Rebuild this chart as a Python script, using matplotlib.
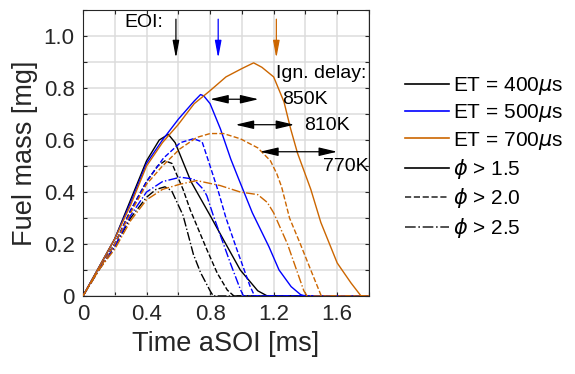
import matplotlib.pyplot as plt
import numpy as np
from matplotlib.lines import Line2D
from matplotlib.ticker import MultipleLocator, FuncFormatter

# colours for the three injection durations
ET_COLORS = ['black', '#0000FF', '#CC6600']

# ET = 400 us
t400_15 = [0, 0.1, 0.2, 0.3, 0.4, 0.48, 0.537, 0.58, 0.68, 0.8, 0.89, 0.99, 1.1, 1.16, 1.8]
m400_15 = [0, 0.11, 0.22, 0.37, 0.52, 0.60, 0.622, 0.59, 0.44, 0.31, 0.21, 0.10, 0.02, 0, 0]
t400_20 = [0, 0.1, 0.2, 0.3, 0.4, 0.47, 0.516, 0.56, 0.63, 0.676, 0.78, 0.845, 0.908, 0.95, 1.8]
m400_20 = [0, 0.105, 0.2, 0.33, 0.44, 0.50, 0.52, 0.51, 0.41, 0.33, 0.178, 0.088, 0.023, 0, 0]
t400_25 = [0, 0.1, 0.2, 0.3, 0.4, 0.46, 0.516, 0.558, 0.63, 0.695, 0.74, 0.80, 0.82, 1.8]
m400_25 = [0, 0.1, 0.19, 0.30, 0.38, 0.41, 0.42, 0.405, 0.31, 0.16, 0.09, 0.02, 0, 0]

# ET = 500 us
t500_15 = [0, 0.1, 0.2, 0.3, 0.4, 0.5, 0.6, 0.7, 0.74, 0.76, 0.8, 0.865, 0.93, 0.98, 1.066, 1.17, 1.234, 1.31, 1.37, 1.4, 1.8]
m500_15 = [0, 0.11, 0.22, 0.36, 0.51, 0.60, 0.68, 0.75, 0.775, 0.77, 0.74, 0.643, 0.527, 0.45, 0.32, 0.19, 0.10, 0.036, 0.005, 0, 0]
t500_20 = [0, 0.1, 0.2, 0.3, 0.4, 0.506, 0.613, 0.695, 0.75, 0.80, 0.853, 0.9, 0.968, 1.05, 1.08, 1.8]
m500_20 = [0, 0.105, 0.2, 0.33, 0.44, 0.53, 0.59, 0.605, 0.593, 0.50, 0.40, 0.30, 0.18, 0.04, 0, 0]
t500_25 = [0, 0.1, 0.2, 0.3, 0.4, 0.5, 0.613, 0.695, 0.758, 0.78, 0.82, 0.926, 0.99, 1.01, 1.8]
m500_25 = [0, 0.1, 0.19, 0.31, 0.40, 0.44, 0.457, 0.45, 0.41, 0.385, 0.31, 0.129, 0.026, 0, 0]

# ET = 700 us
t700_15 = [0, 0.1, 0.2, 0.3, 0.4, 0.5, 0.6, 0.7, 0.8, 0.9, 1.0, 1.074, 1.126, 1.2, 1.265, 1.307, 1.35, 1.434, 1.497, 1.6, 1.687, 1.75, 1.8]
m700_15 = [0, 0.11, 0.22, 0.35, 0.50, 0.59, 0.66, 0.74, 0.79, 0.843, 0.875, 0.897, 0.88, 0.843, 0.747, 0.643, 0.55, 0.41, 0.283, 0.127, 0.05, 0, 0]
t700_20 = [0, 0.1, 0.2, 0.3, 0.4, 0.5, 0.61, 0.716, 0.8, 0.884, 0.99, 1.1, 1.18, 1.22, 1.25, 1.3, 1.368, 1.45, 1.5, 1.8]
m700_20 = [0, 0.1, 0.2, 0.32, 0.43, 0.50, 0.566, 0.61, 0.625, 0.625, 0.605, 0.57, 0.52, 0.47, 0.42, 0.30, 0.20, 0.075, 0, 0]
t700_25 = [0, 0.1, 0.2, 0.3, 0.4, 0.5, 0.61, 0.716, 0.863, 0.99, 1.1, 1.16, 1.2, 1.287, 1.39, 1.41, 1.8]
m700_25 = [0, 0.1, 0.18, 0.29, 0.37, 0.41, 0.43, 0.444, 0.425, 0.40, 0.39, 0.36, 0.32, 0.2, 0.02, 0, 0]

# end of injection arrows (x position) and ignition delay arrows
eoi_times = [0.585, 0.851, 1.217]
delay_labels = ['850K', '810K', '770K']
delay_start = [0.80, 0.96, 1.114]
delay_end = [1.105, 1.33, 1.60]
delay_level = [0.757, 0.659, 0.555]
delay_text_xy = [(1.40, 0.757), (1.535, 0.657), (1.655, 0.50)]

legend_labels = [r'ET = 400$\mu$s', r'ET = 500$\mu$s', r'ET = 700$\mu$s',
                 r'$\phi$ > 1.5', r'$\phi$ > 2.0', r'$\phi$ > 2.5']


def FuelPlot():
	plt.rcParams['font.family'] = ['Liberation Sans', 'DejaVu Sans']
	plt.rcParams['mathtext.fontset'] = 'dejavusans'
	fig = plt.figure(figsize=(5.75, 3.74), dpi=100)
	ax = fig.add_axes([0.1443, 0.2086, 0.4974, 0.7644])

	series = [
		(t400_15, m400_15, 0, '-'), (t400_20, m400_20, 0, '--'), (t400_25, m400_25, 0, '-.'),
		(t500_15, m500_15, 1, '-'), (t500_20, m500_20, 1, '--'), (t500_25, m500_25, 1, '-.'),
		(t700_15, m700_15, 2, '-'), (t700_20, m700_20, 2, '--'), (t700_25, m700_25, 2, '-.'),
	]
	for t, m, c, ls in series:
		ax.plot(t, m, color=ET_COLORS[c], linestyle=ls, lw=1.0, zorder=3)

	ax.set_xlim(0, 1.8)
	ax.set_ylim(0, 1.1)
	ax.xaxis.set_major_locator(MultipleLocator(0.4))
	ax.xaxis.set_minor_locator(MultipleLocator(0.2))
	ax.yaxis.set_major_locator(MultipleLocator(0.2))
	ax.yaxis.set_minor_locator(MultipleLocator(0.1))
	fmt = FuncFormatter(lambda v, p: '0' if abs(v) < 1e-9 else '%.1f' % v)
	ax.xaxis.set_major_formatter(fmt)
	ax.yaxis.set_major_formatter(fmt)
	ax.grid(True, which='both', color='#DCDCDC', lw=1.1, zorder=0)
	ax.set_axisbelow(True)
	ax.tick_params(which='both', direction='in', top=True, right=True,
		length=3, width=0.8, labelsize=16, colors='#262626', pad=6)
	for s in ax.spines.values():
		s.set_color('#262626')
		s.set_linewidth(0.8)

	ax.set_xlabel('Time aSOI [ms]', fontsize=19.5, color='#262626', labelpad=4)
	ax.set_ylabel('Fuel mass [mg]', fontsize=19.5, color='#262626', labelpad=4)

	# EOI markers
	ax.text(0.38, 1.054, 'EOI:', fontsize=14, ha='center', va='center')
	for x, c in zip(eoi_times, ET_COLORS):
		ax.annotate('', xy=(x, 0.915), xytext=(x, 1.065),
			arrowprops=dict(arrowstyle='-|>,head_length=0.8,head_width=0.15',
				color=c, lw=0.9, shrinkA=0, shrinkB=0, mutation_scale=13))

	ax.text(1.213, 0.857, 'Ign. delay:', fontsize=14, ha='left', va='center')
	for x0, x1, y, lab, txy in zip(delay_start, delay_end, delay_level, delay_labels, delay_text_xy):
		ax.annotate('', xy=(x1, y), xytext=(x0, y),
			arrowprops=dict(arrowstyle='<|-|>,head_length=0.85,head_width=0.2',
				color='black', lw=0.9, shrinkA=0, shrinkB=0, mutation_scale=13))
		ax.text(txy[0], txy[1], lab, fontsize=14, ha='center', va='center')

	handles = [Line2D([], [], color=ET_COLORS[0], lw=1.2),
		Line2D([], [], color=ET_COLORS[1], lw=1.2),
		Line2D([], [], color=ET_COLORS[2], lw=1.2),
		Line2D([], [], color='black', lw=1.2, ls='-'),
		Line2D([], [], color='#333333', lw=1.2, ls='--'),
		Line2D([], [], color='#333333', lw=1.2, ls='-.')]
	fig.legend(handles, legend_labels, loc='upper left', bbox_to_anchor=(0.705, 0.80),
		frameon=False, fontsize=15, handlelength=2.1, handletextpad=0.2,
		labelspacing=0.26, borderaxespad=0, borderpad=0)

	fig.savefig('out.png', dpi=100)


def main():
	FuelPlot()


if __name__ == "__main__":
	main()
